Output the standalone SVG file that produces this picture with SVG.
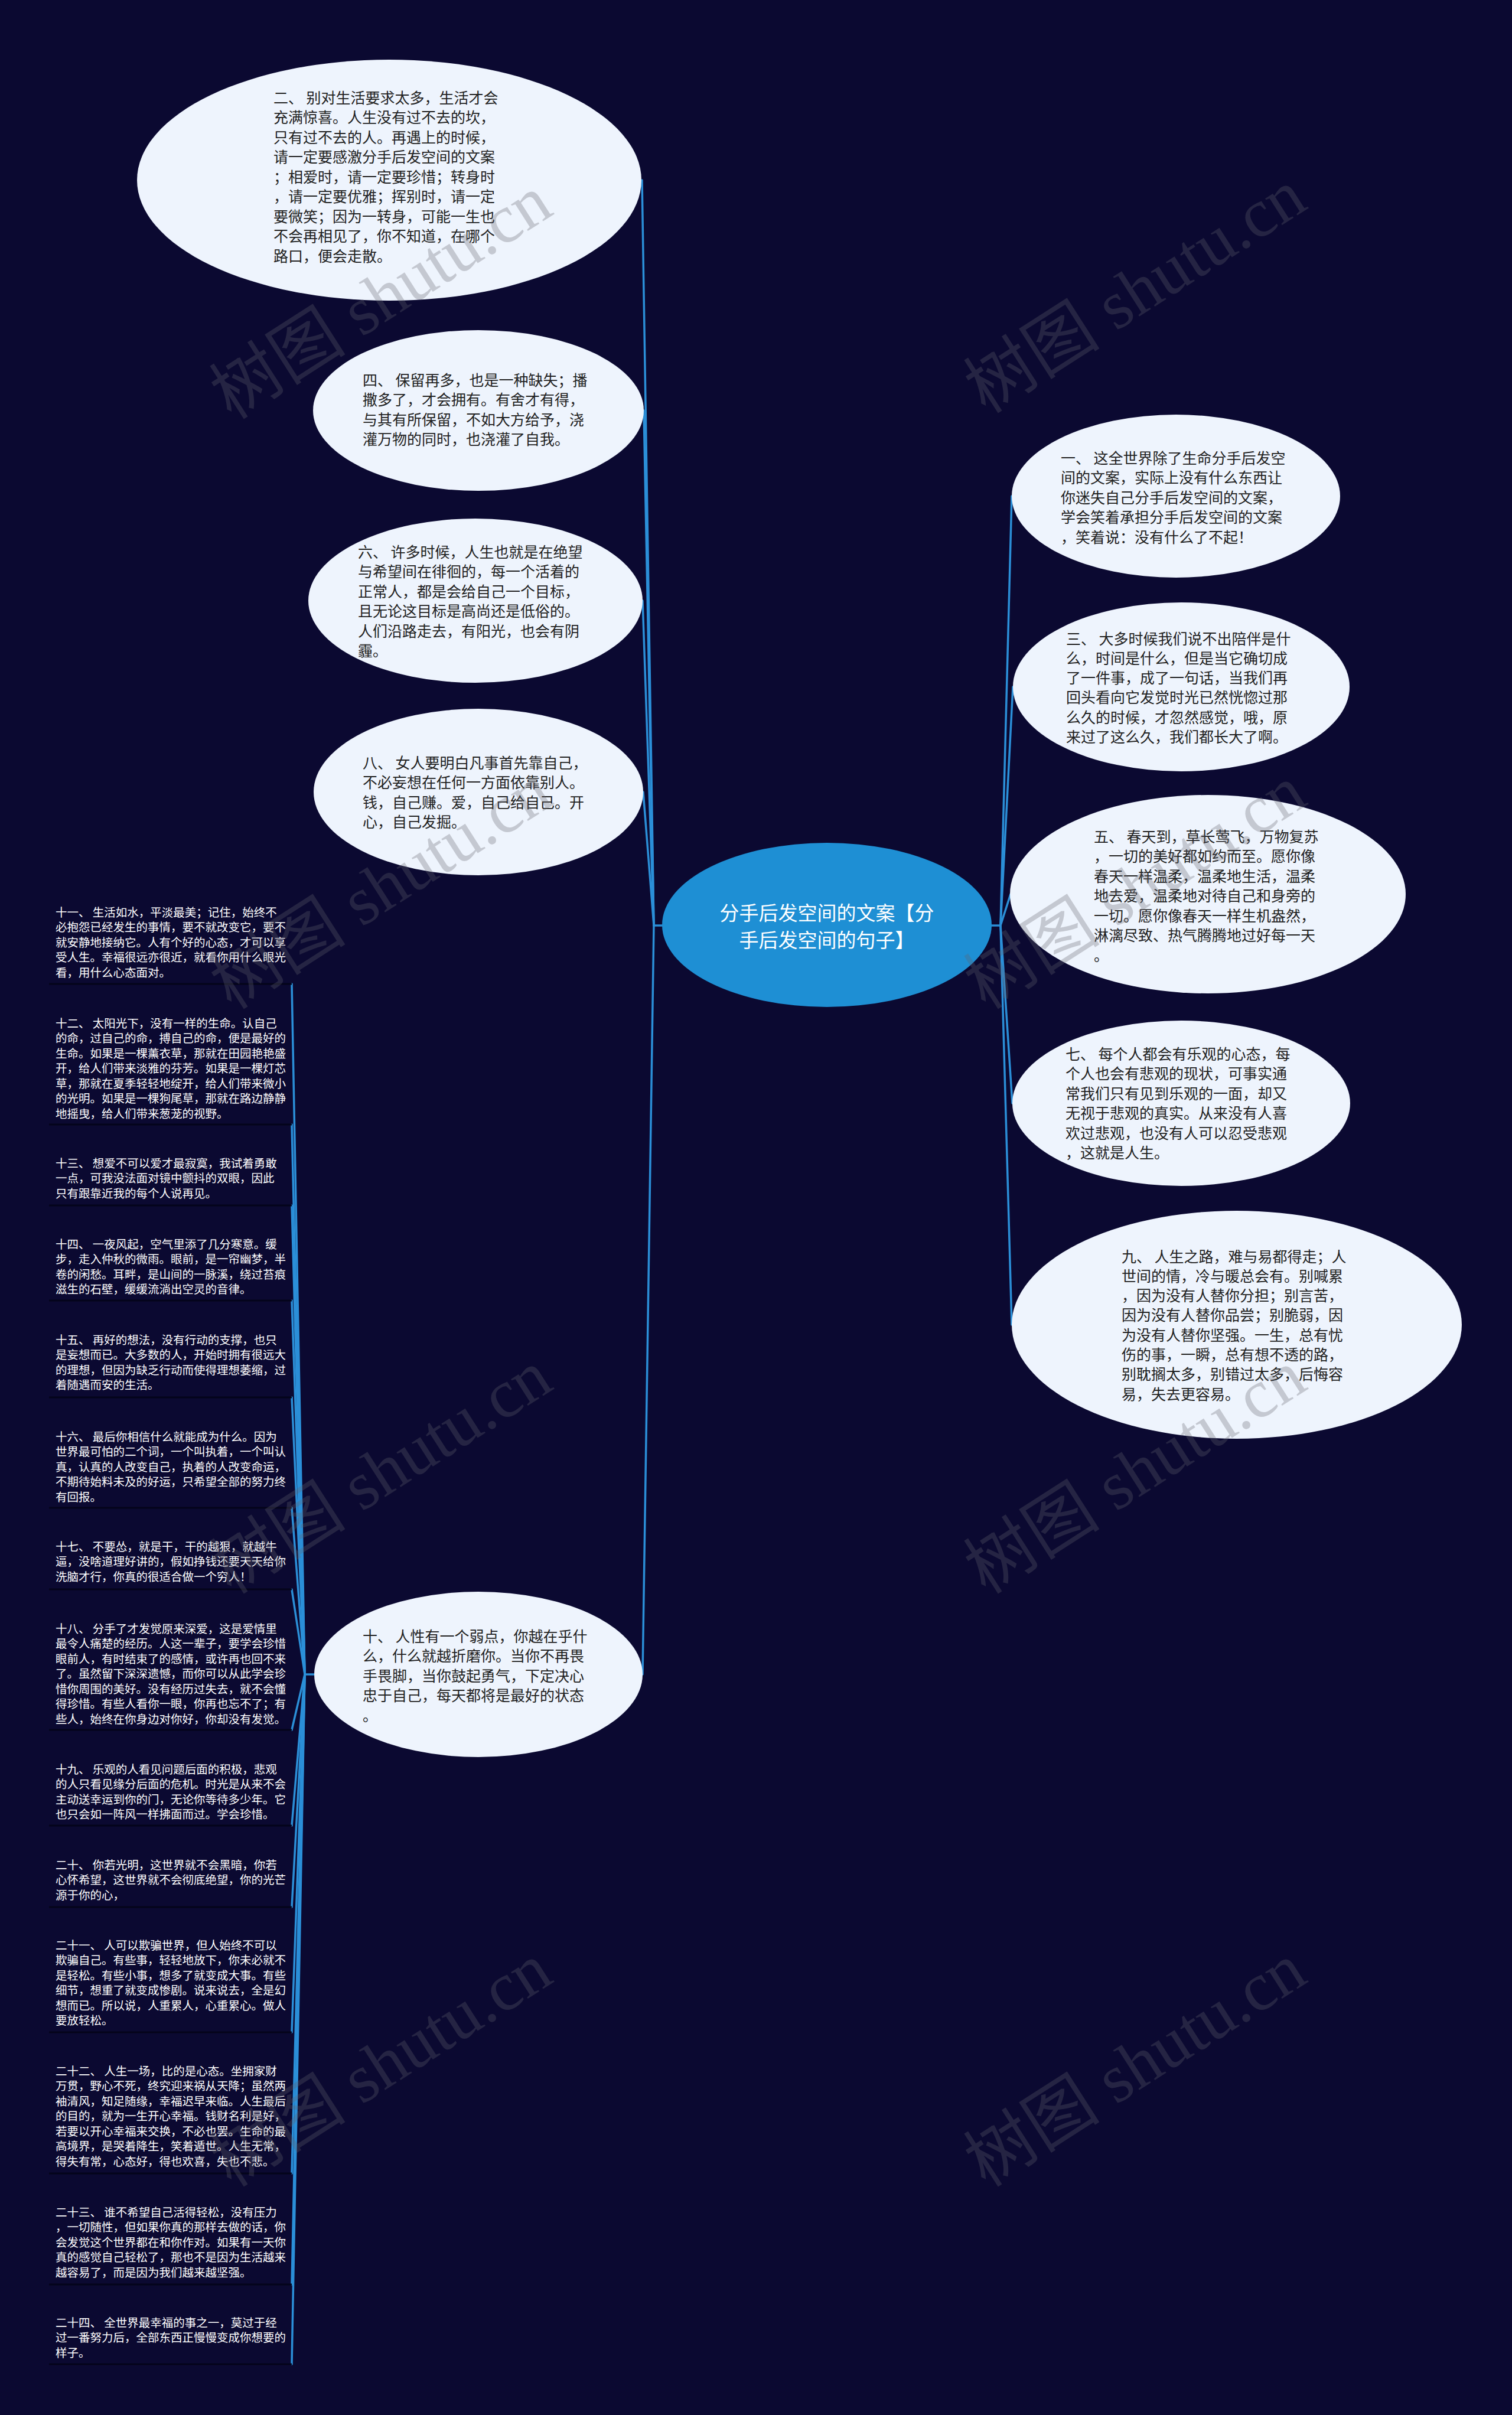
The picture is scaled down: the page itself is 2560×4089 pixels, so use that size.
<svg xmlns="http://www.w3.org/2000/svg" width="2560" height="4089" viewBox="0 0 2560 4089">
<style>
.bg{fill:#0b0931}
.ell{fill:#eef4fd}
.root{fill:#1e8fd4}
.t{font-family:"Noto Sans CJK SC","Noto Sans",sans-serif;font-size:25px;fill:#222}
.rt{font-family:"Noto Sans CJK SC","Noto Sans",sans-serif;font-size:33px;fill:#ffffff;text-anchor:middle}
.it{font-family:"Noto Sans CJK SC","Noto Sans",sans-serif;font-size:19.5px;fill:#ffffff}
.ul{stroke:#04041a;stroke-width:3;fill:none}
.ln{stroke:#2b8fd8;stroke-width:3.5;fill:none;stroke-linecap:round}
.wm{font-family:"Liberation Serif","Noto Sans CJK SC",serif;font-size:116px;fill:#64646e;fill-opacity:0.3}
</style>
<rect class="bg" x="0" y="0" width="2560" height="4089"/>

<g id="connectors">
<path class="ln" d="M1107,1567 L1122,1567"/>
<path class="ln" d="M1107,1567 L1087,305"/>
<path class="ln" d="M1107,1567 L1090,695"/>
<path class="ln" d="M1107,1567 L1088,1017"/>
<path class="ln" d="M1107,1567 L1089,1341"/>
<path class="ln" d="M1107,1567 L1088,2835"/>
<path class="ln" d="M1678,1567 L1694,1567"/>
<path class="ln" d="M1694,1567 L1713,840"/>
<path class="ln" d="M1694,1567 L1715,1163"/>
<path class="ln" d="M1694,1567 L1711,1514"/>
<path class="ln" d="M1694,1567 L1714,1868"/>
<path class="ln" d="M1694,1567 L1713,2243"/>
<path class="ln" d="M516,2835 L532,2835"/>
<path class="ln" d="M516,2835 L494,1666"/>
<path class="ln" d="M516,2835 L494,1904"/>
<path class="ln" d="M516,2835 L494,2041"/>
<path class="ln" d="M516,2835 L494,2202"/>
<path class="ln" d="M516,2835 L494,2366"/>
<path class="ln" d="M516,2835 L494,2553"/>
<path class="ln" d="M516,2835 L494,2691"/>
<path class="ln" d="M516,2835 L494,2929"/>
<path class="ln" d="M516,2835 L494,3091"/>
<path class="ln" d="M516,2835 L494,3229"/>
<path class="ln" d="M516,2835 L494,3441"/>
<path class="ln" d="M516,2835 L494,3680"/>
<path class="ln" d="M516,2835 L494,3868"/>
<path class="ln" d="M516,2835 L494,4003"/>
</g>

<g id="root">
<ellipse class="root" cx="1400" cy="1566" rx="279" ry="139"/>
<text class="rt"><tspan x="1400" y="1558">分手后发空间的文案【分</tspan><tspan x="1400" y="1604">手后发空间的句子】</tspan></text>
</g>

<g id="n2">
<ellipse class="ell" cx="659" cy="305" rx="427" ry="204"/>
<text class="t"><tspan x="463" y="174.5">二、 别对生活要求太多，生活才会</tspan><tspan x="463" y="208">充满惊喜。人生没有过不去的坎，</tspan><tspan x="463" y="241.5">只有过不去的人。再遇上的时候，</tspan><tspan x="463" y="275">请一定要感激分手后发空间的文案</tspan><tspan x="463" y="308.5">；相爱时，请一定要珍惜；转身时</tspan><tspan x="463" y="342">，请一定要优雅；挥别时，请一定</tspan><tspan x="463" y="375.5">要微笑；因为一转身，可能一生也</tspan><tspan x="463" y="409">不会再相见了，你不知道，在哪个</tspan><tspan x="463" y="442.5">路口，便会走散。</tspan></text>
</g>

<g id="n4">
<ellipse class="ell" cx="810" cy="695" rx="280" ry="136"/>
<text class="t"><tspan x="614" y="652.5">四、 保留再多，也是一种缺失；播</tspan><tspan x="614" y="686">撒多了，才会拥有。有舍才有得，</tspan><tspan x="614" y="719.5">与其有所保留，不如大方给予，浇</tspan><tspan x="614" y="753">灌万物的同时，也浇灌了自我。</tspan></text>
</g>

<g id="n6">
<ellipse class="ell" cx="805" cy="1017" rx="283" ry="139"/>
<text class="t"><tspan x="606" y="943.5">六、 许多时候，人生也就是在绝望</tspan><tspan x="606" y="977">与希望间在徘徊的，每一个活着的</tspan><tspan x="606" y="1010.5">正常人，都是会给自己一个目标，</tspan><tspan x="606" y="1044">且无论这目标是高尚还是低俗的。</tspan><tspan x="606" y="1077.5">人们沿路走去，有阳光，也会有阴</tspan><tspan x="606" y="1111">霾。</tspan></text>
</g>

<g id="n8">
<ellipse class="ell" cx="810" cy="1341" rx="279" ry="141"/>
<text class="t"><tspan x="614" y="1300.5">八、 女人要明白凡事首先靠自己，</tspan><tspan x="614" y="1334">不必妄想在任何一方面依靠别人。</tspan><tspan x="614" y="1367.5">钱，自己赚。爱，自己给自己。开</tspan><tspan x="614" y="1401">心，自己发掘。</tspan></text>
</g>

<g id="n10">
<ellipse class="ell" cx="810" cy="2835" rx="278" ry="140"/>
<text class="t"><tspan x="614" y="2779.5">十、 人性有一个弱点，你越在乎什</tspan><tspan x="614" y="2813">么，什么就越折磨你。当你不再畏</tspan><tspan x="614" y="2846.5">手畏脚，当你鼓起勇气，下定决心</tspan><tspan x="614" y="2880">忠于自己，每天都将是最好的状态</tspan><tspan x="614" y="2913.5">。</tspan></text>
</g>

<g id="n1">
<ellipse class="ell" cx="1991" cy="840" rx="278" ry="138"/>
<text class="t"><tspan x="1796" y="784.5">一、 这全世界除了生命分手后发空</tspan><tspan x="1796" y="818">间的文案，实际上没有什么东西让</tspan><tspan x="1796" y="851.5">你迷失自己分手后发空间的文案，</tspan><tspan x="1796" y="885">学会笑着承担分手后发空间的文案</tspan><tspan x="1796" y="918.5">，笑着说：没有什么了不起！</tspan></text>
</g>

<g id="n3">
<ellipse class="ell" cx="2000" cy="1163" rx="285" ry="143"/>
<text class="t"><tspan x="1805" y="1090.5">三、 大多时候我们说不出陪伴是什</tspan><tspan x="1805" y="1123.8">么，时间是什么，但是当它确切成</tspan><tspan x="1805" y="1157.1">了一件事，成了一句话，当我们再</tspan><tspan x="1805" y="1190.4">回头看向它发觉时光已然恍惚过那</tspan><tspan x="1805" y="1223.7">么久的时候，才忽然感觉，哦，原</tspan><tspan x="1805" y="1257">来过了这么久，我们都长大了啊。</tspan></text>
</g>

<g id="n5">
<ellipse class="ell" cx="2045" cy="1514" rx="335" ry="168"/>
<text class="t"><tspan x="1852" y="1425.5">五、 春天到，草长莺飞，万物复苏</tspan><tspan x="1852" y="1459">，一切的美好都如约而至。愿你像</tspan><tspan x="1852" y="1492.5">春天一样温柔，温柔地生活，温柔</tspan><tspan x="1852" y="1526">地去爱，温柔地对待自己和身旁的</tspan><tspan x="1852" y="1559.5">一切。愿你像春天一样生机盎然，</tspan><tspan x="1852" y="1593">淋漓尽致、热气腾腾地过好每一天</tspan><tspan x="1852" y="1626.5">。</tspan></text>
</g>

<g id="n7">
<ellipse class="ell" cx="2000" cy="1868" rx="286" ry="140"/>
<text class="t"><tspan x="1804" y="1793.5">七、 每个人都会有乐观的心态，每</tspan><tspan x="1804" y="1827">个人也会有悲观的现状，可事实通</tspan><tspan x="1804" y="1860.5">常我们只有见到乐观的一面，却又</tspan><tspan x="1804" y="1894">无视于悲观的真实。从来没有人喜</tspan><tspan x="1804" y="1927.5">欢过悲观，也没有人可以忍受悲观</tspan><tspan x="1804" y="1961">，这就是人生。</tspan></text>
</g>

<g id="n9">
<ellipse class="ell" cx="2094" cy="2243" rx="381" ry="193"/>
<text class="t"><tspan x="1899" y="2136.5">九、 人生之路，难与易都得走；人</tspan><tspan x="1899" y="2169.8">世间的情，冷与暖总会有。别喊累</tspan><tspan x="1899" y="2203.1">，因为没有人替你分担；别言苦，</tspan><tspan x="1899" y="2236.4">因为没有人替你品尝；别脆弱，因</tspan><tspan x="1899" y="2269.7">为没有人替你坚强。一生，总有忧</tspan><tspan x="1899" y="2303">伤的事，一瞬，总有想不透的路，</tspan><tspan x="1899" y="2336.3">别耽搁太多，别错过太多，后悔容</tspan><tspan x="1899" y="2369.6">易，失去更容易。</tspan></text>
</g>

<g id="n11">
<text class="it"><tspan x="94" y="1551.5">十一、 生活如水，平淡最美；记住，始终不</tspan><tspan x="94" y="1577">必抱怨已经发生的事情，要不就改变它，要不</tspan><tspan x="94" y="1602.5">就安静地接纳它。人有个好的心态，才可以享</tspan><tspan x="94" y="1628">受人生。幸福很远亦很近，就看你用什么眼光</tspan><tspan x="94" y="1653.5">看，用什么心态面对。</tspan></text>
<line class="ul" x1="83" y1="1666" x2="494" y2="1666"/>
</g>

<g id="n12">
<text class="it"><tspan x="94" y="1739.5">十二、 太阳光下，没有一样的生命。认自己</tspan><tspan x="94" y="1765">的命，过自己的命，搏自己的命，便是最好的</tspan><tspan x="94" y="1790.5">生命。如果是一棵薰衣草，那就在田园艳艳盛</tspan><tspan x="94" y="1816">开，给人们带来淡雅的芬芳。如果是一棵灯芯</tspan><tspan x="94" y="1841.5">草，那就在夏季轻轻地绽开，给人们带来微小</tspan><tspan x="94" y="1867">的光明。如果是一棵狗尾草，那就在路边静静</tspan><tspan x="94" y="1892.5">地摇曳，给人们带来葱茏的视野。</tspan></text>
<line class="ul" x1="83" y1="1904" x2="494" y2="1904"/>
</g>

<g id="n13">
<text class="it"><tspan x="94" y="1976.5">十三、 想爱不可以爱才最寂寞，我试着勇敢</tspan><tspan x="94" y="2002">一点，可我没法面对镜中颤抖的双眼，因此</tspan><tspan x="94" y="2027.5">只有跟靠近我的每个人说再见。</tspan></text>
<line class="ul" x1="83" y1="2041" x2="494" y2="2041"/>
</g>

<g id="n14">
<text class="it"><tspan x="94" y="2113.5">十四、 一夜风起，空气里添了几分寒意。缓</tspan><tspan x="94" y="2139">步，走入仲秋的微雨。眼前，是一帘幽梦，半</tspan><tspan x="94" y="2164.5">卷的闲愁。耳畔，是山间的一脉溪，绕过苔痕</tspan><tspan x="94" y="2190">滋生的石壁，缓缓流淌出空灵的音律。</tspan></text>
<line class="ul" x1="83" y1="2202" x2="494" y2="2202"/>
</g>

<g id="n15">
<text class="it"><tspan x="94" y="2275.5">十五、 再好的想法，没有行动的支撑，也只</tspan><tspan x="94" y="2301">是妄想而已。大多数的人，开始时拥有很远大</tspan><tspan x="94" y="2326.5">的理想，但因为缺乏行动而使得理想萎缩，过</tspan><tspan x="94" y="2352">着随遇而安的生活。</tspan></text>
<line class="ul" x1="83" y1="2366" x2="494" y2="2366"/>
</g>

<g id="n16">
<text class="it"><tspan x="94" y="2439.5">十六、 最后你相信什么就能成为什么。因为</tspan><tspan x="94" y="2465">世界最可怕的二个词，一个叫执着，一个叫认</tspan><tspan x="94" y="2490.5">真，认真的人改变自己，执着的人改变命运，</tspan><tspan x="94" y="2516">不期待始料未及的好运，只希望全部的努力终</tspan><tspan x="94" y="2541.5">有回报。</tspan></text>
<line class="ul" x1="83" y1="2553" x2="494" y2="2553"/>
</g>

<g id="n17">
<text class="it"><tspan x="94" y="2625.5">十七、 不要怂，就是干，干的越狠，就越牛</tspan><tspan x="94" y="2651">逼，没啥道理好讲的，假如挣钱还要天天给你</tspan><tspan x="94" y="2676.5">洗脑才行，你真的很适合做一个穷人！</tspan></text>
<line class="ul" x1="83" y1="2691" x2="494" y2="2691"/>
</g>

<g id="n18">
<text class="it"><tspan x="94" y="2764.5">十八、 分手了才发觉原来深爱，这是爱情里</tspan><tspan x="94" y="2790">最令人痛楚的经历。人这一辈子，要学会珍惜</tspan><tspan x="94" y="2815.5">眼前人，有时结束了的感情，或许再也回不来</tspan><tspan x="94" y="2841">了。虽然留下深深遗憾，而你可以从此学会珍</tspan><tspan x="94" y="2866.5">惜你周围的美好。没有经历过失去，就不会懂</tspan><tspan x="94" y="2892">得珍惜。有些人看你一眼，你再也忘不了；有</tspan><tspan x="94" y="2917.5">些人，始终在你身边对你好，你却没有发觉。</tspan></text>
<line class="ul" x1="83" y1="2929" x2="494" y2="2929"/>
</g>

<g id="n19">
<text class="it"><tspan x="94" y="3002.5">十九、 乐观的人看见问题后面的积极，悲观</tspan><tspan x="94" y="3028">的人只看见缘分后面的危机。时光是从来不会</tspan><tspan x="94" y="3053.5">主动送幸运到你的门，无论你等待多少年。它</tspan><tspan x="94" y="3079">也只会如一阵风一样拂面而过。学会珍惜。</tspan></text>
<line class="ul" x1="83" y1="3091" x2="494" y2="3091"/>
</g>

<g id="n20">
<text class="it"><tspan x="94" y="3164.5">二十、 你若光明，这世界就不会黑暗，你若</tspan><tspan x="94" y="3190">心怀希望，这世界就不会彻底绝望，你的光芒</tspan><tspan x="94" y="3215.5">源于你的心，</tspan></text>
<line class="ul" x1="83" y1="3229" x2="494" y2="3229"/>
</g>

<g id="n21">
<text class="it"><tspan x="94" y="3300.5">二十一、 人可以欺骗世界，但人始终不可以</tspan><tspan x="94" y="3326">欺骗自己。有些事，轻轻地放下，你未必就不</tspan><tspan x="94" y="3351.5">是轻松。有些小事，想多了就变成大事。有些</tspan><tspan x="94" y="3377">细节，想重了就变成惨剧。说来说去，全是幻</tspan><tspan x="94" y="3402.5">想而已。所以说，人重累人，心重累心。做人</tspan><tspan x="94" y="3428">要放轻松。</tspan></text>
<line class="ul" x1="83" y1="3441" x2="494" y2="3441"/>
</g>

<g id="n22">
<text class="it"><tspan x="94" y="3513.5">二十二、 人生一场，比的是心态。坐拥家财</tspan><tspan x="94" y="3539">万贯，野心不死，终究迎来祸从天降；虽然两</tspan><tspan x="94" y="3564.5">袖清风，知足随缘，幸福迟早来临。人生最后</tspan><tspan x="94" y="3590">的目的，就为一生开心幸福。钱财名利是好，</tspan><tspan x="94" y="3615.5">若要以开心幸福来交换，不必也罢。生命的最</tspan><tspan x="94" y="3641">高境界，是哭着降生，笑着遁世。人生无常，</tspan><tspan x="94" y="3666.5">得失有常，心态好，得也欢喜，失也不悲。</tspan></text>
<line class="ul" x1="83" y1="3680" x2="494" y2="3680"/>
</g>

<g id="n23">
<text class="it"><tspan x="94" y="3752.5">二十三、 谁不希望自己活得轻松，没有压力</tspan><tspan x="94" y="3778">，一切随性，但如果你真的那样去做的话，你</tspan><tspan x="94" y="3803.5">会发觉这个世界都在和你作对。如果有一天你</tspan><tspan x="94" y="3829">真的感觉自己轻松了，那也不是因为生活越来</tspan><tspan x="94" y="3854.5">越容易了，而是因为我们越来越坚强。</tspan></text>
<line class="ul" x1="83" y1="3868" x2="494" y2="3868"/>
</g>

<g id="n24">
<text class="it"><tspan x="94" y="3939.5">二十四、 全世界最幸福的事之一，莫过于经</tspan><tspan x="94" y="3965">过一番努力后，全部东西正慢慢变成你想要的</tspan><tspan x="94" y="3990.5">样子。</tspan></text>
<line class="ul" x1="83" y1="4003" x2="494" y2="4003"/>
</g>

<g id="watermarks">
<text class="wm" transform="translate(392,712) rotate(-32.6)">树图 shutu.cn</text>
<text class="wm" transform="translate(1669,702) rotate(-32.6)">树图 shutu.cn</text>
<text class="wm" transform="translate(392,1711) rotate(-32.6)">树图 shutu.cn</text>
<text class="wm" transform="translate(1669,1711) rotate(-32.6)">树图 shutu.cn</text>
<text class="wm" transform="translate(392,2701) rotate(-32.6)">树图 shutu.cn</text>
<text class="wm" transform="translate(1669,2701) rotate(-32.6)">树图 shutu.cn</text>
<text class="wm" transform="translate(392,3705) rotate(-32.6)">树图 shutu.cn</text>
<text class="wm" transform="translate(1669,3705) rotate(-32.6)">树图 shutu.cn</text>
</g>
</svg>
